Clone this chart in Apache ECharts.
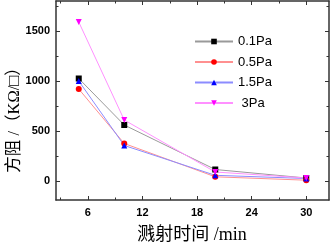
<!DOCTYPE html>
<html><head><meta charset="utf-8">
<script src="https://cdn.jsdelivr.net/npm/echarts@6/dist/echarts.min.js"></script>
<style>html,body{margin:0;padding:0;background:#fff}#c{width:330px;height:243px}</style>
</head><body><div id="c"></div>
<script>
var xTimes = [5, 10, 20, 30];
var seriesNames = ['0.1Pa', '0.5Pa', '1.5Pa', ' 3Pa'];
var p01 = [1025, 560, 115, 30];
var p05 = [920, 375, 42, 8];
var p15 = [1000, 355, 57, 25];
var p3 = [1590, 610, 90, 30];
var xMajor = [6, 12, 18, 24, 30];
var xMinor = [3, 9, 15, 21, 27];
var yMajor = [0, 500, 1000, 1500];
var yMinor = [250, 750, 1250, 1750];

var chart = echarts.init(document.getElementById('c'));
var axCol = '#333';
function fmt(v){ return String(v); }
function xAx(pos, ticks, len, showLabel, showLine) {
  return {type:'value', position:pos, min:2.5, max:32.5, gridIndex:0,
    axisLine:{show:showLine, onZero:false, lineStyle:{color:axCol, width:1.5}},
    axisTick:{show:true, inside:true, length:len, customValues:ticks, lineStyle:{color:axCol, width:1}},
    axisLabel:{show:showLabel, customValues:xMajor, formatter:fmt, color:'#000', fontFamily:'Liberation Sans, Arial', fontWeight:'bold', fontSize:11, margin:7},
    splitLine:{show:false}};
}
function yAx(pos, ticks, len, showLabel, showLine) {
  return {type:'value', position:pos, min:-190, max:1800, gridIndex:0,
    axisLine:{show:showLine, onZero:false, lineStyle:{color:axCol, width:1.5}},
    axisTick:{show:true, inside:true, length:len, customValues:ticks, lineStyle:{color:axCol, width:1}},
    axisLabel:{show:showLabel, customValues:yMajor, formatter:fmt, color:'#000', fontFamily:'Liberation Sans, Arial', fontWeight:'bold', fontSize:11, margin:6},
    splitLine:{show:false}};
}
function mk(vals){ return xTimes.map(function(x,i){return [x, vals[i]];}); }
var cfg = [
  {name:seriesNames[0], data:p01, line:'#9a9a9a', sym:'rect', col:'#000', rot:0},
  {name:seriesNames[1], data:p05, line:'#ff9090', sym:'circle', col:'#ff0000', rot:0},
  {name:seriesNames[2], data:p15, line:'#8c8cff', sym:'triangle', col:'#0000ff', rot:0},
  {name:seriesNames[3], data:p3, line:'#ff90ff', sym:'triangle', col:'#ff00ff', rot:180}
];
chart.setOption({
  animation:false,
  grid:{left:56, right:1, top:1, bottom:43},
  legend:{orient:'vertical', left:189, top:30, itemWidth:38, itemHeight:7, itemGap:7.5,
    textStyle:{fontFamily:'Liberation Sans, Arial', fontSize:13, color:'#000'},
    data:seriesNames},
  xAxis:[xAx('bottom', xMajor, 4, true, true), xAx('bottom', xMinor, 2.5, false, false),
         xAx('top', xMajor, 4, false, true), xAx('top', xMinor, 2.5, false, false)],
  yAxis:[yAx('left', yMajor, 4, true, true), yAx('left', yMinor, 2.5, false, false),
         yAx('right', yMajor, 4, false, true), yAx('right', yMinor, 2.5, false, false)],
  series: cfg.map(function(c){
    return {type:'line', name:c.name, data:mk(c.data), symbol:c.sym, symbolSize:6, symbolRotate:c.rot,
      showAllSymbol:true, lineStyle:{color:c.line, width:1}, itemStyle:{color:c.col, borderWidth:0}};
  }),
  graphic:[
    {type:'text', x:192, y:235, style:{text:'溅射时间 /min', align:'center', verticalAlign:'middle',
      font:'18px "Liberation Serif", "Noto Sans CJK SC"', fill:'#000'}},
    {type:'text', x:15, y:116, rotation:Math.PI/2, style:{text:'方阻 /（KΩ/□）', align:'center', verticalAlign:'middle',
      font:'16.5px "Liberation Serif", "Noto Sans CJK SC"', fill:'#000'}}
  ]
});
</script></body></html>
